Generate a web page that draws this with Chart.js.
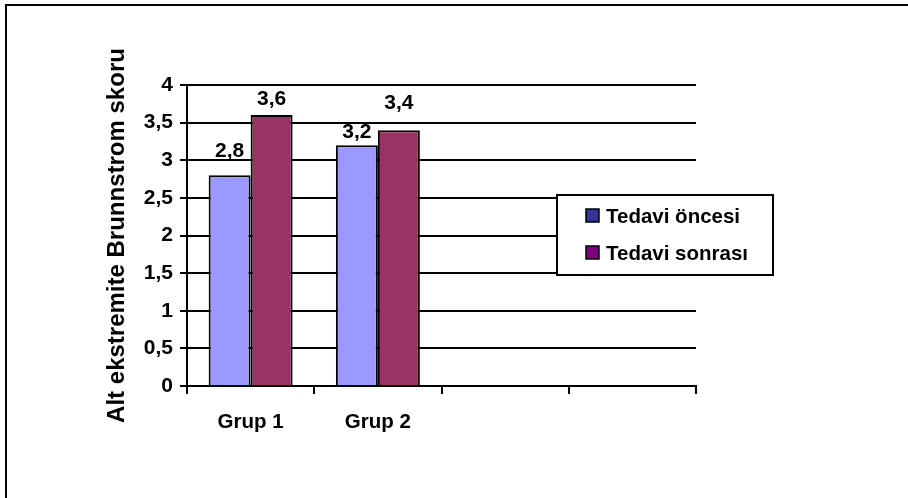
<!DOCTYPE html>
<html>
<head>
<meta charset="utf-8">
<script src="https://cdn.jsdelivr.net/npm/chart.js@4"></script>
<style>
  html, body { margin: 0; padding: 0; background: #fff; overflow: hidden; }
  .frame {
    position: absolute; left: 5px; top: 4px;
    width: 1000px; height: 1000px;
    border: 2px solid #000;
  }
  #chart { position: absolute; left: 0; top: 0; }
</style>
</head>
<body>
<div class="frame"></div>
<canvas id="chart" width="908" height="498"></canvas>
<script>
const categories = ["Grup 1", "Grup 2", "", ""];
const seriesNames = ["Tedavi öncesi", "Tedavi sonrası"];
const before = [2.8, 3.2, null, null];
const after = [3.6, 3.4, null, null];
const yTickLabels = ["0", "0,5", "1", "1,5", "2", "2,5", "3", "3,5", "4"];

const barColors = ["#9999FF", "#993366"];
const legendColors = ["#333399", "#800080"];
// how far each value label sits above its bar, per series
const labelLift = [[18, 7], [10, 21]];

const FONT = "'Liberation Sans', Arial, sans-serif";

const valueLabels = {
  id: "valueLabels",
  afterDatasetsDraw(chart) {
    const ctx = chart.ctx;
    ctx.save();
    ctx.font = "bold 21px " + FONT;
    ctx.fillStyle = "#000";
    ctx.textAlign = "center";
    ctx.textBaseline = "alphabetic";
    chart.data.datasets.forEach((ds, di) => {
      chart.getDatasetMeta(di).data.forEach((bar, i) => {
        const v = ds.data[i];
        if (v == null) return;
        ctx.fillText(String(v).replace(".", ","), bar.x, bar.y - labelLift[di][i]);
      });
    });
    ctx.restore();
  }
};

const boxLegend = {
  id: "boxLegend",
  afterDraw(chart) {
    const ctx = chart.ctx;
    const x = 557, y = 195, w = 216, h = 80;
    ctx.save();
    ctx.fillStyle = "#fff";
    ctx.fillRect(x, y, w, h);
    ctx.strokeStyle = "#000";
    ctx.lineWidth = 2;
    ctx.strokeRect(x, y, w, h);
    ctx.font = "bold 20.5px " + FONT;
    ctx.textBaseline = "middle";
    seriesNames.forEach((name, i) => {
      const cy = 216 + i * 37;
      ctx.fillStyle = legendColors[i];
      ctx.fillRect(586, cy - 7, 13, 13);
      ctx.lineWidth = 1.5;
      ctx.strokeRect(586, cy - 7, 13, 13);
      ctx.fillStyle = "#000";
      ctx.fillText(name, 606, cy + 1);
    });
    ctx.restore();
  }
};

new Chart(document.getElementById("chart"), {
  type: "bar",
  data: {
    labels: categories,
    datasets: [
      { label: seriesNames[0], data: before, backgroundColor: barColors[0] },
      { label: seriesNames[1], data: after, backgroundColor: barColors[1] }
    ]
  },
  options: {
    responsive: false,
    animation: false,
    layout: { padding: { left: 105, top: 85, right: 212, bottom: 52 } },
    datasets: {
      bar: {
        borderColor: "#000",
        borderWidth: 2,
        categoryPercentage: 0.66,
        barPercentage: 1
      }
    },
    plugins: {
      legend: { display: false },
      tooltip: { enabled: false }
    },
    scales: {
      x: {
        afterFit(scale) { scale.height = 60; },
        grid: {
          offset: true,
          color: (c) => (c.index === categories.length ? "#000" : "rgba(0,0,0,0)"),
          tickColor: "#000",
          lineWidth: 2,
          tickLength: 8
        },
        border: { color: "#000", width: 2 },
        ticks: {
          color: "#000",
          font: { family: FONT, size: 20.5, weight: "bold" },
          padding: 16,
          maxRotation: 0
        }
      },
      y: {
        min: 0,
        max: 4,
        afterFit(scale) { scale.width = 82; },
        grid: { color: "#000", lineWidth: 2, tickLength: 7 },
        border: { color: "#000", width: 2 },
        ticks: {
          stepSize: 0.5,
          color: "#000",
          padding: 7,
          font: { family: FONT, size: 21, weight: "bold" },
          callback: (v, i) => yTickLabels[i]
        },
        title: {
          display: true,
          text: "Alt ekstremite Brunnstrom skoru",
          color: "#000",
          padding: 0,
          font: { family: FONT, size: 24, weight: "bold", lineHeight: 1 }
        }
      }
    }
  },
  plugins: [valueLabels, boxLegend]
});
</script>
</body>
</html>
